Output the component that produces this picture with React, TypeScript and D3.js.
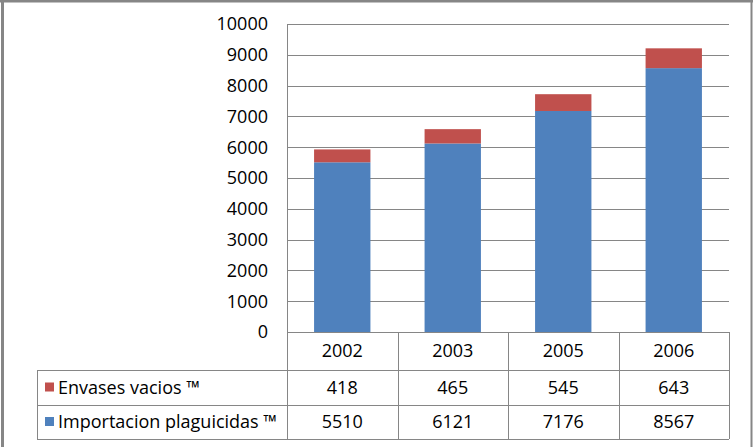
import React from "react";
import * as d3 from "d3";

const years = ["2002", "2003", "2005", "2006"];
const envases = [418, 465, 545, 643];
const importacion = [5510, 6121, 7176, 8567];
const yTicks = [0, 1000, 2000, 3000, 4000, 5000, 6000, 7000, 8000, 9000, 10000];
const seriesNames = ["Envases vacios ™", "Importacion plaguicidas ™"];
const seriesColors = ["#C0504D", "#4F81BD"];

const W = 753;
const H = 447;
const plotLeft = 287;
const plotRight = 729;
const plotTop = 24;
const plotBottom = 332;
const tableLeft = 37;
const rowLines = [332, 370, 405, 439];
const font = "'Open Sans', sans-serif";
const fs = 18;

export default function App() {
  const x = d3.scaleBand<string>().domain(years).range([plotLeft, plotRight]).paddingInner(0.49).paddingOuter(0.245);
  const xCol = d3.scaleBand<string>().domain(years).range([plotLeft, plotRight]);
  const y = d3.scaleLinear().domain([0, 10000]).range([plotBottom, plotTop]);

  const rows = [envases, importacion];

  return (
    <svg width={W} height={H} style={{ position: "absolute", left: 0, top: 0, background: "#fff" }}>
      <rect x={0} y={0} width={W} height={H} fill="#fff" />
      {/* frame */}
      <line x1={0} x2={W} y1={1} y2={1} stroke="#868686" strokeWidth={3} />
      <line x1={2.5} x2={2.5} y1={0} y2={H} stroke="#868686" strokeWidth={3} />
      <line x1={751.5} x2={751.5} y1={0} y2={H} stroke="#868686" strokeWidth={2} />

      {/* gridlines */}
      {yTicks.map((t) => (
        <line key={t} x1={plotLeft} x2={plotRight} y1={Math.round(y(t)) + 0.5} y2={Math.round(y(t)) + 0.5} stroke="#868686" strokeWidth={1} />
      ))}
      <line x1={plotLeft + 0.5} x2={plotLeft + 0.5} y1={plotTop} y2={plotBottom} stroke="#868686" />

      {/* y tick labels */}
      {yTicks.map((t) => (
        <text key={t} x={268} y={y(t)} dy="0.35em" textAnchor="end" fontFamily={font} fontSize={fs} fill="#000">
          {t}
        </text>
      ))}

      {/* stacked bars */}
      {years.map((yr, i) => (
        <g key={yr}>
          <rect x={x(yr)} width={x.bandwidth()} y={y(importacion[i])} height={y(0) - y(importacion[i])} fill={seriesColors[1]} />
          <rect
            x={x(yr)}
            width={x.bandwidth()}
            y={y(importacion[i] + envases[i])}
            height={y(importacion[i]) - y(importacion[i] + envases[i])}
            fill={seriesColors[0]}
          />
        </g>
      ))}

      {/* data table */}
      <g stroke="#868686" strokeWidth={1} fill="none">
        <line x1={plotLeft} x2={plotRight} y1={rowLines[0] + 0.5} y2={rowLines[0] + 0.5} />
        {rowLines.slice(1).map((ly) => (
          <line key={ly} x1={tableLeft} x2={plotRight} y1={ly + 0.5} y2={ly + 0.5} />
        ))}
        <line x1={tableLeft + 0.5} x2={tableLeft + 0.5} y1={rowLines[1]} y2={rowLines[3]} />
        {years.map((yr) => (
          <line key={yr} x1={Math.round(xCol(yr)!) + 0.5} x2={Math.round(xCol(yr)!) + 0.5} y1={rowLines[0]} y2={rowLines[3]} />
        ))}
        <line x1={plotRight + 0.5} x2={plotRight + 0.5} y1={rowLines[0]} y2={rowLines[3]} />
      </g>

      {years.map((yr) => (
        <text key={yr} x={xCol(yr)! + xCol.bandwidth() / 2} y={(rowLines[0] + rowLines[1]) / 2} dy="0.35em" textAnchor="middle" fontFamily={font} fontSize={fs}>
          {yr}
        </text>
      ))}

      {rows.map((vals, r) => {
        const cy = (rowLines[r + 1] + rowLines[r + 2]) / 2;
        return (
          <g key={r}>
            <rect x={45} y={cy - 5} width={9} height={9} fill={seriesColors[r]} />
            <text x={58} y={cy} dy="0.35em" fontFamily={font} fontSize={fs}>
              {seriesNames[r]}
            </text>
            {vals.map((v, i) => (
              <text key={i} x={xCol(years[i])! + xCol.bandwidth() / 2} y={cy} dy="0.35em" textAnchor="middle" fontFamily={font} fontSize={fs}>
                {v}
              </text>
            ))}
          </g>
        );
      })}
    </svg>
  );
}
